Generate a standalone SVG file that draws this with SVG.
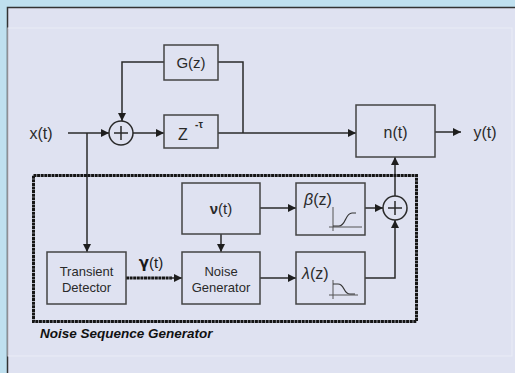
<svg xmlns="http://www.w3.org/2000/svg" width="515" height="373" viewBox="0 0 515 373">
<defs>
<marker id="ah" viewBox="0 0 10 10" refX="10" refY="5" markerWidth="9" markerHeight="8" markerUnits="userSpaceOnUse" orient="auto">
<path d="M0,0 L10,5 L0,10 Z" fill="#1e1e1e"/>
</marker>
</defs>
<style>
.box{fill:none;stroke:#444;stroke-width:1.5}
.ln{fill:none;stroke:#2a2a2a;stroke-width:1.5}
.arr{fill:none;stroke:#2a2a2a;stroke-width:1.5;marker-end:url(#ah)}
.thick{fill:none;stroke:#151515;stroke-width:3;stroke-dasharray:3 0.6}
.t{font-family:"Liberation Sans",Arial,sans-serif;fill:#2a2a2a;text-anchor:middle}
.big{font-size:16px}
.sm{font-size:13px}
.sum{fill:none;stroke:#2a2a2a;stroke-width:1.5}
</style>
<rect width="515" height="373" fill="#bfe0ef"/>
<rect x="7.5" y="7.5" width="510" height="370" fill="#dfe2f1" stroke="#333" stroke-width="1.5"/>
<rect x="8" y="28" width="504" height="328" fill="none" stroke="#eaecf6" stroke-width="1"/>

<g id="connectors">
<path class="arr" d="M68,133 L109,133"/>
<path class="ln" d="M87,133 L87,240"/>
<path class="arr" d="M87,240 L87,252"/>
<path class="ln" d="M164,62 L122,62 L122,110"/>
<path class="arr" d="M122,110 L122,121"/>
<path class="ln" d="M218,62 L243,62 L243,133"/>
<path class="arr" d="M133,133 L164,133"/>
<path class="arr" d="M218,133 L356,133"/>
<path class="arr" d="M435,132 L461,132"/>
<path class="thick" d="M126,278 L172,278"/>
<path class="arr" d="M170,278 L182,278"/>
<path class="arr" d="M221,234 L221,252"/>
<path class="arr" d="M260,208 L296,208"/>
<path class="arr" d="M260,278 L296,278"/>
<path class="arr" d="M365,208 L383,208"/>
<path class="arr" d="M395,196 L395,157"/>
<path class="ln" d="M365,278 L395,278 L395,232"/>
<path class="arr" d="M395,232 L395,220"/>
</g>

<g id="nsg">
<rect class="thick" x="33.5" y="175.5" width="383" height="146"/>
<text x="40" y="338" style="font-family:'Liberation Sans',Arial,sans-serif;font-size:13.5px;font-weight:bold;font-style:italic;fill:#111">Noise Sequence Generator</text>
</g>

<g id="xt"><text class="t big" x="41" y="139">x(t)</text></g>
<g id="sum1"><circle class="sum" cx="121" cy="133" r="12"/><path class="ln" d="M114,133 L128,133 M121,126 L121,140"/></g>
<g id="gz"><rect class="box" x="164" y="45" width="54" height="35"/><text class="t" style="font-size:15px" x="191" y="68">G(z)</text></g>
<g id="ztau"><rect class="box" x="164" y="115" width="54" height="33"/>
<text x="183" y="140" style="font-family:'Liberation Sans',Arial,sans-serif;font-size:16px;fill:#2a2a2a;text-anchor:middle">Z</text>
<text x="199" y="128" style="font-family:'Liberation Sans','DejaVu Sans',sans-serif;font-size:10px;font-weight:bold;fill:#2a2a2a;text-anchor:middle">-τ</text></g>
<g id="nt"><rect class="box" x="356" y="105" width="79" height="52"/><text class="t big" x="395.5" y="138">n(t)</text></g>
<g id="yt"><text class="t big" x="485" y="138">y(t)</text></g>
<g id="td"><rect class="box" x="47" y="252" width="79" height="52"/><text class="t sm" x="86.5" y="276">Transient</text><text class="t sm" x="86.5" y="292">Detector</text></g>
<g id="gamma"><text x="151" y="268" style="font-family:'Liberation Sans','DejaVu Sans',sans-serif;font-size:15px;fill:#1a1a1a;text-anchor:middle"><tspan font-weight="bold" style="font-family:'DejaVu Sans',sans-serif">γ</tspan>(t)</text></g>
<g id="ng"><rect class="box" x="182" y="252" width="78" height="52"/><text class="t sm" x="221" y="276">Noise</text><text class="t sm" x="221" y="292">Generator</text></g>
<g id="nu"><rect class="box" x="182" y="183" width="78" height="51"/><text class="t" x="221" y="214" style="font-size:15px"><tspan font-weight="bold">ν</tspan>(t)</text></g>
<g id="beta"><rect class="box" x="296" y="183" width="69" height="52"/>
<text x="304" y="205" style="font-family:'Liberation Sans','DejaVu Sans',sans-serif;font-size:16px;fill:#2a2a2a"><tspan font-style="italic">β</tspan>(z)</text>
<path d="M333,207 L333,231 M329,227 L362,227" fill="none" stroke="#555" stroke-width="1"/>
<path d="M333,226 L339,226 C346,226 345,213 352,213 L356,213" fill="none" stroke="#333" stroke-width="1.2"/></g>
<g id="lambda"><rect class="box" x="296" y="252" width="69" height="52"/>
<text x="302" y="279" style="font-family:'Liberation Sans','DejaVu Sans',sans-serif;font-size:16px;fill:#2a2a2a"><tspan font-style="italic">λ</tspan>(z)</text>
<path d="M333,280 L333,299 M329,295 L358,295" fill="none" stroke="#555" stroke-width="1"/>
<path d="M333,284 L338,284 C345,284 343,294 350,294 L355,294" fill="none" stroke="#333" stroke-width="1.2"/></g>
<g id="sum2"><circle class="sum" cx="395" cy="208" r="12"/><path class="ln" d="M388,208 L402,208 M395,201 L395,215"/></g>
</svg>
